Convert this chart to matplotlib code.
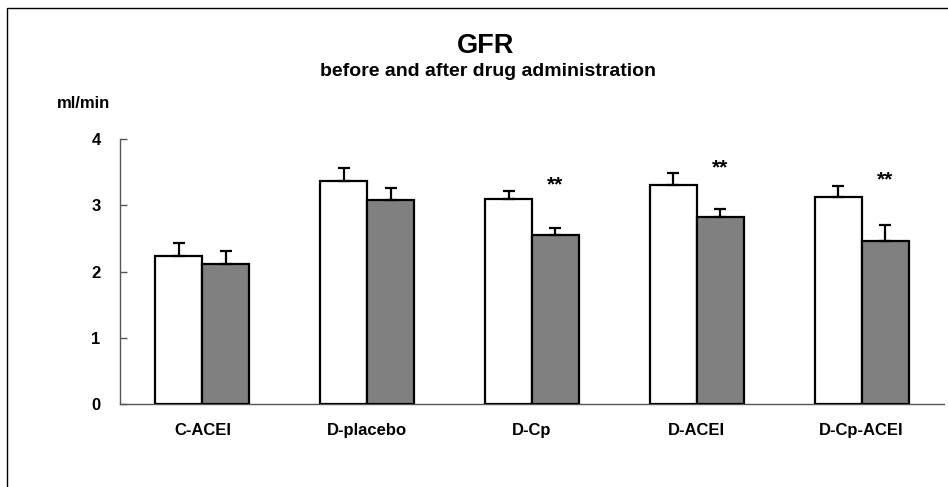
import matplotlib
matplotlib.use("Agg")
import matplotlib.pyplot as plt
from matplotlib.patches import Rectangle
import numpy as np

plt.rcParams['font.family'] = ['Liberation Sans', 'DejaVu Sans']
plt.rcParams['font.weight'] = 'bold'

# data (ml/min)
groups = ["C-ACEI", "D-placebo", "D-Cp", "D-ACEI", "D-Cp-ACEI"]
before = [2.23, 3.37, 3.10, 3.31, 3.13]
before_err = [0.21, 0.19, 0.12, 0.18, 0.17]
after = [2.11, 3.08, 2.55, 2.82, 2.46]
after_err = [0.20, 0.18, 0.11, 0.13, 0.24]
signif = ["", "", "**", "**", "**"]
yticks = [0, 1, 2, 3, 4]

fig = plt.figure(figsize=(9.48, 4.87), dpi=100)
ax = fig.add_axes([120 / 948, 1 - 404 / 487, 824 / 948, (404 - 139.3) / 487])

x = np.arange(len(groups))
w = 0.285
edge = dict(edgecolor="black", linewidth=1.6)
err_kw = dict(ecolor="black", elinewidth=1.6, capsize=4.5, capthick=1.6)
zeros = np.zeros(len(groups))

ax.bar(x - w / 2, before, w, color="white", yerr=[zeros, before_err],
       error_kw=err_kw, zorder=3, **edge)
ax.bar(x + w / 2, after, w, color="#808080", yerr=[zeros, after_err],
       error_kw=err_kw, zorder=3, **edge)

for i, s in enumerate(signif):
    if s:
        ytop = before[i] + before_err[i]
        ax.text(x[i] + w / 2, ytop - 0.06, s, ha="center", va="bottom",
                fontsize=15, fontweight="bold")

ax.set_xlim(-0.5, len(groups) - 0.5)
ax.set_ylim(0, 4)
ax.set_yticks(yticks)
ax.set_xticks(x)
ax.set_xticklabels(groups)
ax.tick_params(axis="x", length=0, pad=14, labelsize=12)
ax.tick_params(axis="y", direction="in", length=5, width=1, color="#555555",
               pad=14, labelsize=12)
for lab in ax.get_xticklabels() + ax.get_yticklabels():
    lab.set_fontweight("bold")

for side in ["top", "right"]:
    ax.spines[side].set_visible(False)
for side in ["left", "bottom"]:
    ax.spines[side].set_color("#555555")
    ax.spines[side].set_linewidth(1)

fig.text(486 / 948, 1 - 53 / 487, "GFR", ha="center", va="baseline",
         fontsize=19.5, fontweight="bold")
fig.text(488 / 948, 1 - 76 / 487, "before and after drug administration",
         ha="center", va="baseline", fontsize=14, fontweight="bold")
fig.text(57 / 948, 1 - 108 / 487, "ml/min", ha="left", va="baseline",
         fontsize=12, fontweight="bold")

# outer frame of the original chart area
fig.patches.append(Rectangle((7 / 948, -0.1), 1.2, 1 - 8 / 487 + 0.1,
                             transform=fig.transFigure, fill=False,
                             edgecolor="black", linewidth=1))

fig.savefig("out.png", dpi=100)
